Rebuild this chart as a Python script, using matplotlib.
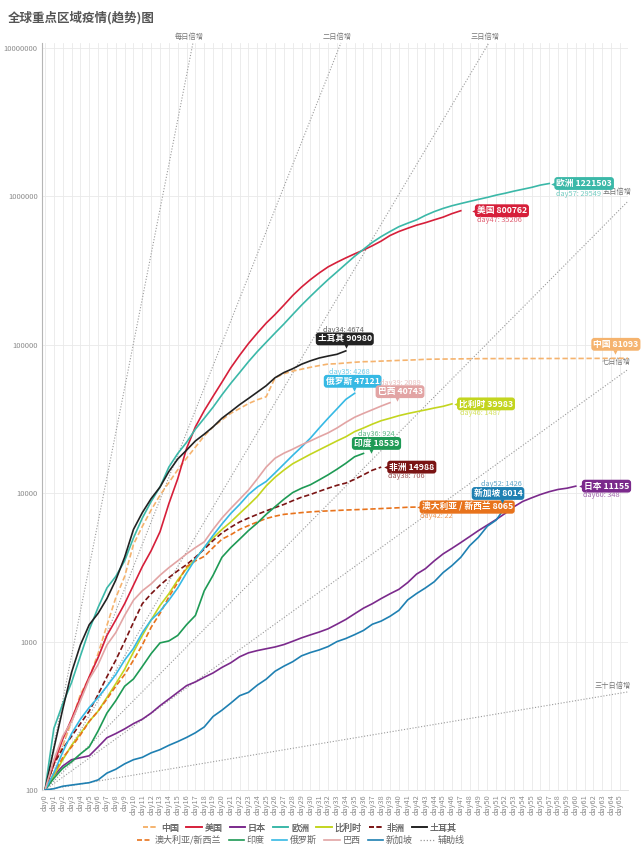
import numpy as np
import matplotlib
matplotlib.use('Agg')
import matplotlib.pyplot as plt
from matplotlib.lines import Line2D
from matplotlib import transforms
from matplotlib.colors import to_rgb

plt.rcParams['font.family'] = ['Noto Sans CJK SC', 'DejaVu Sans']

# ---------------- data ----------------
day_labels = [f'day{i}' for i in range(66)]

china = [100, 150, 198, 291, 440, 571, 830, 1287, 1975, 2744, 4515, 5974, 7711, 9692, 11791,
         14380, 17205, 20438, 24324, 28018, 31161, 34546, 37198, 40171, 42638, 44653, 59804,
         63851, 66492, 68500, 70548, 72436, 74185, 74576, 75465, 76288, 76936, 77150, 77658,
         78064, 78497, 78824, 79251, 79824, 80026, 80151, 80270, 80409, 80552, 80651, 80695,
         80735, 80754, 80778, 80793, 80813, 80824, 80844, 80860, 80881, 80894, 80928, 80967,
         81008, 81054, 81078, 81093]
usa = [100, 150, 220, 300, 420, 580, 780, 1100, 1400, 1800, 2400, 3200, 4100, 5500, 8500,
       12500, 20000, 28000, 36000, 45000, 56000, 70000, 85000, 102000, 120000, 140000, 160000,
       185000, 215000, 245000, 275000, 305000, 335000, 360000, 385000, 410000, 435000, 465000,
       500000, 545000, 580000, 610000, 640000, 665000, 695000, 725000, 765556, 800762]
japan = [100, 125, 145, 160, 165, 170, 195, 225, 240, 258, 280, 300, 330, 370, 410, 455, 505,
         535, 575, 615, 670, 720, 790, 840, 870, 895, 920, 955, 1005, 1060, 1110, 1160, 1220,
         1310, 1410, 1540, 1680, 1800, 1950, 2100, 2250, 2500, 2850, 3100, 3500, 3900, 4250,
         4650, 5100, 5600, 6100, 6650, 7300, 8100, 8800, 9300, 9800, 10240, 10600, 10807, 11155]
europe = [100, 260, 380, 530, 800, 1200, 1700, 2300, 2750, 3500, 5000, 6800, 8800, 11000,
          15000, 18500, 22000, 27000, 32000, 38000, 46000, 55000, 65000, 77000, 90000, 104000,
          120000, 138000, 160000, 185000, 212000, 242000, 275000, 310000, 350000, 395000,
          440000, 490000, 536000, 580000, 625000, 660000, 695000, 745000, 790000, 830000,
          865000, 895000, 925000, 955000, 985000, 1020000, 1050000, 1085000, 1117000, 1150000,
          1191954, 1221503]
belgium = [100, 125, 160, 200, 240, 290, 340, 420, 520, 650, 850, 1100, 1400, 1750, 2100,
           2600, 3100, 3600, 4300, 5000, 5700, 6400, 7300, 8300, 9500, 11200, 12800, 14300,
           15800, 17000, 18300, 19600, 21000, 22500, 24000, 26000, 27500, 29200, 30800, 32000,
           33300, 34400, 35400, 36400, 37500, 38496, 39983]
africa = [100, 150, 190, 230, 280, 340, 440, 580, 750, 1000, 1350, 1800, 2100, 2400, 2700,
          3000, 3300, 3700, 4200, 4800, 5400, 5900, 6400, 6800, 7200, 7600, 8000, 8400, 8900,
          9400, 9800, 10300, 10800, 11300, 11700, 12400, 13300, 14282, 14988]
turkey = [100, 190, 350, 620, 950, 1300, 1550, 1950, 2600, 3700, 5700, 7400, 9200, 11000,
          14000, 17000, 19500, 22500, 25000, 28000, 32000, 35500, 39500, 43500, 48000, 53000,
          60000, 65000, 69000, 74000, 78000, 81500, 84000, 86306, 90980]
aus_nz = [100, 130, 165, 195, 235, 290, 340, 410, 500, 600, 750, 950, 1250, 1550, 2000, 2500,
          3200, 3500, 3750, 4300, 4900, 5250, 5700, 6050, 6400, 6750, 7000, 7200, 7300, 7400,
          7480, 7550, 7600, 7650, 7700, 7740, 7780, 7830, 7880, 7930, 7980, 8043, 8065]
india = [100, 120, 140, 155, 175, 195, 250, 330, 400, 500, 560, 680, 830, 980, 1010, 1100,
         1300, 1500, 2200, 2800, 3700, 4300, 4900, 5600, 6300, 7200, 8100, 9100, 10100, 10800,
         11400, 12300, 13300, 14500, 15900, 17615, 18539]
russia = [100, 130, 180, 240, 300, 360, 420, 500, 600, 750, 900, 1150, 1400, 1600, 1900, 2300,
          2900, 3600, 4300, 5200, 6200, 7300, 8400, 9800, 11000, 12000, 13700, 15700, 18000,
          20500, 23500, 27500, 32000, 37000, 42853, 47121]
brazil = [100, 160, 230, 290, 400, 560, 700, 950, 1150, 1500, 1900, 2200, 2450, 2800, 3150,
          3500, 3900, 4300, 4700, 5700, 6800, 7900, 9100, 10500, 12500, 15000, 17200, 18600,
          19800, 21200, 22500, 24000, 25500, 27500, 30000, 32500, 34500, 36500, 38654, 40743]
singapore = [100, 102, 106, 108, 110, 112, 117, 130, 138, 150, 160, 166, 178, 187, 200, 212,
             226, 243, 266, 313, 345, 385, 432, 455, 509, 558, 631, 683, 732, 802, 844, 879,
             926, 1000, 1049, 1114, 1189, 1309, 1375, 1481, 1623, 1910, 2108, 2299, 2532, 2918,
             3252, 3699, 4427, 5050, 5992, 6588, 8014]

names = ['中国', '美国', '日本', '欧洲', '比利时', '非洲', '土耳其',
         '澳大利亚/新西兰', '印度', '俄罗斯', '巴西', '新加坡']
colors = ['#f5b36e', '#d61f3a', '#7b2a8c', '#3bb8a8', '#c3d51f', '#7a1414', '#222222',
          '#e8731c', '#1e9a55', '#36b9e4', '#e2a4a4', '#1f80b2']
styles = ['--', '-', '-', '-', '-', '--', '-', '--', '-', '-', '-', '-']
values = [china, usa, japan, europe, belgium, africa, turkey, aus_nz, india, russia, brazil,
          singapore]

# end labels: box text, daily text
box_texts = ['中国 81093', '美国 800762', '日本 11155', '欧洲 1221503', '比利时 39983',
             '非洲 14988', '土耳其 90980', '澳大利亚 / 新西兰 8065', '印度 18539',
             '俄罗斯 47121', '巴西 40743', '新加坡 8014']
sub_texts = [None, 'day47: 35206', 'day60: 348', 'day57: 29549', 'day46: 1487',
             'day38: 706', 'day34: 4674', 'day42: 22', 'day36: 924', 'day35: 4268',
             'day39: 2089', 'day52: 1426']

guide_days = [1, 2, 3, 5, 7, 30]
guide_names = ['每日倍增', '二日倍增', '三日倍增', '五日倍增', '七日倍增', '三十日倍增']

# ---------------- figure ----------------
W, H = 641, 855
fig = plt.figure(figsize=(W / 100, H / 100), dpi=100)
ax = fig.add_axes([42 / W, 1 - 790 / H, (628 - 42) / W, (790 - 43) / H])
ax.set_yscale('log')
ytop = 10 ** (7 + 5 / 148.4)
ax.set_ylim(100, ytop)
ax.set_xlim(-0.34, 65.9)

ax.set_xticks(range(len(day_labels)))
ax.set_xticklabels(day_labels, rotation=90, fontsize=5.3, color='#8c8c8c')
yt = [100, 1000, 10000, 100000, 1000000, 10000000]
ax.set_yticks(yt)
ax.set_yticklabels([str(v) for v in yt], fontsize=5.5, color='#8c8c8c')
ax.minorticks_off()
ax.tick_params(axis='both', length=0)
ax.tick_params(axis='x', pad=3)
ax.tick_params(axis='y', pad=3)
ax.grid(True, color='#e9e9e9', lw=0.6)
ax.set_axisbelow(True)
for s in ['top', 'right']:
    ax.spines[s].set_visible(False)
ax.spines['left'].set_color('#b5b5b5')
ax.spines['left'].set_linewidth(0.8)
ax.spines['bottom'].set_color('#dddddd')
ax.spines['bottom'].set_linewidth(0.6)

# guide lines
x0, x1 = ax.get_xlim()
guide_off = {1: (-4, 6), 2: (-4, 6), 3: (-4, 6), 5: (-11, 9), 7: (-12, 7), 30: (-15, 6)}
for n, gname in zip(guide_days, guide_names):
    dmax = min(x1, n * np.log2(ytop / 100))
    d = np.linspace(0, dmax, 300)
    ax.plot(d, 100 * 2 ** (d / n), color='#9a9a9a', lw=0.8, ls=(0, (1, 1.6)), zorder=1,
            clip_on=False)
    ax.annotate(gname, xy=(dmax, 100 * 2 ** (dmax / n)), xytext=guide_off[n],
                textcoords='offset pixels', ha='center', va='center', fontsize=5.2,
                color='#777', annotation_clip=False)

# series
for v, c, ls in zip(values, colors, styles):
    dd = np.arange(len(v))
    if ls == '--':
        ax.plot(dd, v, color=c, lw=1.2, ls=(0, (3.2, 1.6)), zorder=3)
    else:
        ax.plot(dd, v, color=c, lw=1.2, zorder=3)


def lighten(c, f=0.4):
    r, g, b = to_rgb(c)
    return (r + (1 - r) * f, g + (1 - g) * f, b + (1 - b) * f)


# label placement: mode, dx, dy (box), sub dx, sub dy, pointer dx
placement = {
    '中国': ('up', -13, 14, 0, 0, -14),
    '美国': ('right', 16, 0, 16, -9, 0),
    '日本': ('right', 8, 0, 7, -9, 0),
    '欧洲': ('right', 7, 0, 7, -10, 0),
    '比利时': ('right', 7, 0, 8, -9, 0),
    '非洲': ('right', 8, 0, 7, -9, 0),
    '土耳其': ('up', -1, 12, -2, 21, 0),
    '澳大利亚/新西兰': ('right', 5, 0, 3, -9, 0),
    '印度': ('up', 13, 10, 13, 19, 8),
    '俄罗斯': ('up', -2, 12, -5, 21, -1),
    '巴西': ('up', 10, 11, 10, 20, 7),
    '新加坡': ('up', -7, 14, -4, 23, -3),
}

for name, v, c, bt, st in zip(names, values, colors, box_texts, sub_texts):
    xe, ye = len(v) - 1, v[-1]
    mode, dx, dy, sdx, sdy, pdx = placement[name]
    sc = lighten(c, 0.3)
    if mode == 'right':
        ax.annotate(bt, xy=(xe, ye), xytext=(dx, dy), textcoords='offset pixels',
                    ha='left', va='center', fontsize=6.3, color='white', weight='bold',
                    bbox=dict(boxstyle='round,pad=0.22,rounding_size=0.35', fc=c, ec='none'),
                    zorder=6, annotation_clip=False)
        tr = transforms.offset_copy(ax.transData, fig=fig, x=dx - 3, y=0, units='dots')
        ax.plot([xe], [ye], marker='<', ms=3.2, color=c, mec='none', transform=tr,
                zorder=6, clip_on=False)
        if st:
            ax.annotate(st, xy=(xe, ye), xytext=(sdx, sdy), textcoords='offset pixels',
                        ha='left', va='center', fontsize=5.3, color=sc, zorder=6,
                        annotation_clip=False)
    else:
        ax.annotate(bt, xy=(xe, ye), xytext=(dx, dy), textcoords='offset pixels',
                    ha='center', va='center', fontsize=6.3, color='white', weight='bold',
                    bbox=dict(boxstyle='round,pad=0.22,rounding_size=0.35', fc=c, ec='none'),
                    zorder=6, annotation_clip=False)
        tr = transforms.offset_copy(ax.transData, fig=fig, x=pdx, y=dy - 7.5, units='dots')
        ax.plot([xe], [ye], marker='v', ms=3.2, color=c, mec='none', transform=tr,
                zorder=6, clip_on=False)
        if st:
            ax.annotate(st, xy=(xe, ye), xytext=(sdx, sdy), textcoords='offset pixels',
                        ha='center', va='center', fontsize=5.3, color=sc, zorder=6,
                        annotation_clip=False)

# title
fig.text(8 / W, 1 - 18 / H, '全球重点区域疫情(趋势)图', fontsize=9.0, weight='bold',
         color='#555555', va='center', ha='left')

# legends
def handle(c, ls):
    if ls == '--':
        return Line2D([], [], color=c, lw=1.2, ls=(0, (3, 1.5)))
    return Line2D([], [], color=c, lw=1.2, ls=ls)

row1 = [0, 1, 2, 3, 4, 5, 6]
row2 = [7, 8, 9, 10, 11]
h1 = [handle(colors[i], styles[i]) for i in row1]
l1 = [names[i] for i in row1]
h2 = [handle(colors[i], styles[i]) for i in row2] + [
    Line2D([], [], color='#9a9a9a', lw=0.9, ls=(0, (1, 1.5)))]
l2 = [names[i] for i in row2] + ['辅助线']
kw = dict(loc='center', frameon=False, fontsize=6.5, handlelength=1.7, handletextpad=0.3,
          columnspacing=0.8, labelcolor='#666666', borderpad=0, borderaxespad=0)
leg1 = fig.legend(h1, l1, bbox_to_anchor=(300 / W, 1 - 828 / H), ncol=7, **kw)
fig.add_artist(leg1)
fig.legend(h2, l2, bbox_to_anchor=(301 / W, 1 - 840 / H), ncol=6, **kw)

fig.savefig('out.png', dpi=100)
